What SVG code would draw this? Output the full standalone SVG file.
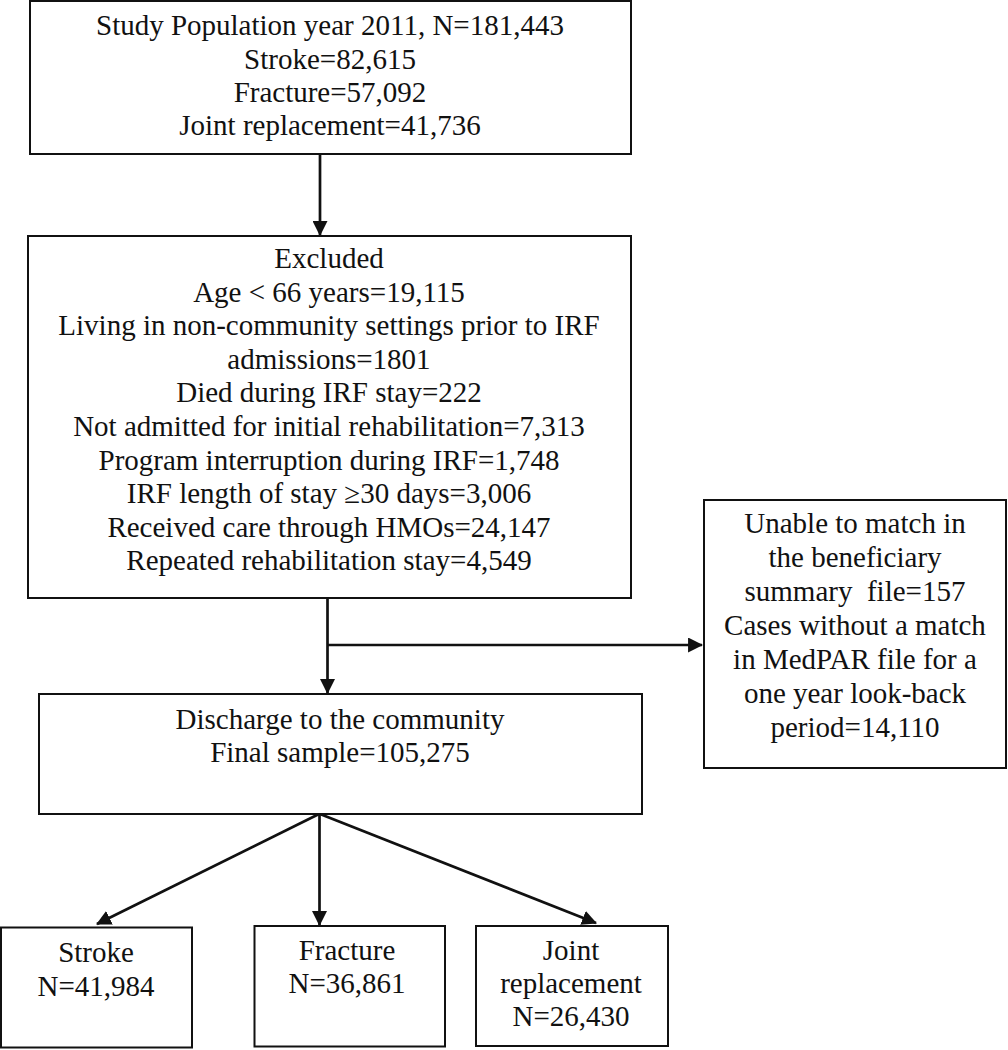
<svg xmlns="http://www.w3.org/2000/svg" width="1008" height="1050" viewBox="0 0 1008 1050">
  <style>
    .box { fill: #ffffff; stroke: #111111; stroke-width: 2; }
    text { font-family: 'Liberation Serif', 'Tinos', 'DejaVu Serif', serif; font-size: 29px; fill: #111111; text-anchor: middle; }
    .conn { stroke: #111111; stroke-width: 2.7; fill: none; }
  </style>
  <defs>
    <marker id="arrow" viewBox="0 0 14 14" refX="13" refY="7" markerWidth="15" markerHeight="15" markerUnits="userSpaceOnUse" orient="auto">
      <path d="M0,0 L14,7 L0,14 Z" fill="#111111"/>
    </marker>
  </defs>
  <rect width="1008" height="1050" fill="#ffffff"/>

  <g id="connectors">
    <line class="conn" x1="320" y1="154" x2="320" y2="235" marker-end="url(#arrow)"/>
    <line class="conn" x1="327.5" y1="598" x2="327.5" y2="693" marker-end="url(#arrow)"/>
    <line class="conn" x1="327.5" y1="645" x2="702" y2="645" marker-end="url(#arrow)"/>
    <line class="conn" x1="319" y1="814" x2="97" y2="924" marker-end="url(#arrow)"/>
    <line class="conn" x1="319.5" y1="814" x2="319.5" y2="925" marker-end="url(#arrow)"/>
    <line class="conn" x1="320" y1="814" x2="596" y2="923" marker-end="url(#arrow)"/>
  </g>

  <g id="node-study-population">
    <rect class="box" x="30" y="1" width="601" height="153"/>
    <text x="330" y="35">Study Population year 2011, N=181,443</text>
    <text x="330" y="68.5">Stroke=82,615</text>
    <text x="330" y="102">Fracture=57,092</text>
    <text x="330" y="135">Joint replacement=41,736</text>
  </g>

  <g id="node-excluded">
    <rect class="box" x="28" y="236" width="603" height="362"/>
    <text x="329" y="268">Excluded</text>
    <text x="329" y="301.6">Age &lt; 66 years=19,115</text>
    <text x="329" y="335.2">Living in non-community settings prior to IRF</text>
    <text x="329" y="368.8">admissions=1801</text>
    <text x="329" y="402.4">Died during IRF stay=222</text>
    <text x="329" y="436">Not admitted for initial rehabilitation=7,313</text>
    <text x="329" y="469.6">Program interruption during IRF=1,748</text>
    <text x="329" y="503.2">IRF length of stay ≥30 days=3,006</text>
    <text x="329" y="536.8">Received care through HMOs=24,147</text>
    <text x="329" y="570.4">Repeated rehabilitation stay=4,549</text>
  </g>

  <g id="node-unmatched">
    <rect class="box" x="704" y="500" width="302" height="268"/>
    <text x="855" y="533">Unable to match in</text>
    <text x="855" y="567">the beneficiary</text>
    <text x="855" y="601" xml:space="preserve">summary  file=157</text>
    <text x="855" y="635">Cases without a match</text>
    <text x="855" y="669">in MedPAR file for a</text>
    <text x="855" y="703">one year look-back</text>
    <text x="855" y="737">period=14,110</text>
  </g>

  <g id="node-discharge">
    <rect class="box" x="39" y="694" width="603" height="120"/>
    <text x="340" y="729">Discharge to the community</text>
    <text x="340" y="762">Final sample=105,275</text>
  </g>

  <g id="node-stroke">
    <rect class="box" x="1" y="927.5" width="191" height="120"/>
    <text x="96" y="962">Stroke</text>
    <text x="96" y="995.5">N=41,984</text>
  </g>

  <g id="node-fracture">
    <rect class="box" x="254.5" y="926" width="190.5" height="120.5"/>
    <text x="347" y="960">Fracture</text>
    <text x="347" y="993">N=36,861</text>
  </g>

  <g id="node-joint">
    <rect class="box" x="476" y="926" width="192" height="120"/>
    <text x="571" y="960">Joint</text>
    <text x="571" y="993">replacement</text>
    <text x="571" y="1026">N=26,430</text>
  </g>
</svg>
